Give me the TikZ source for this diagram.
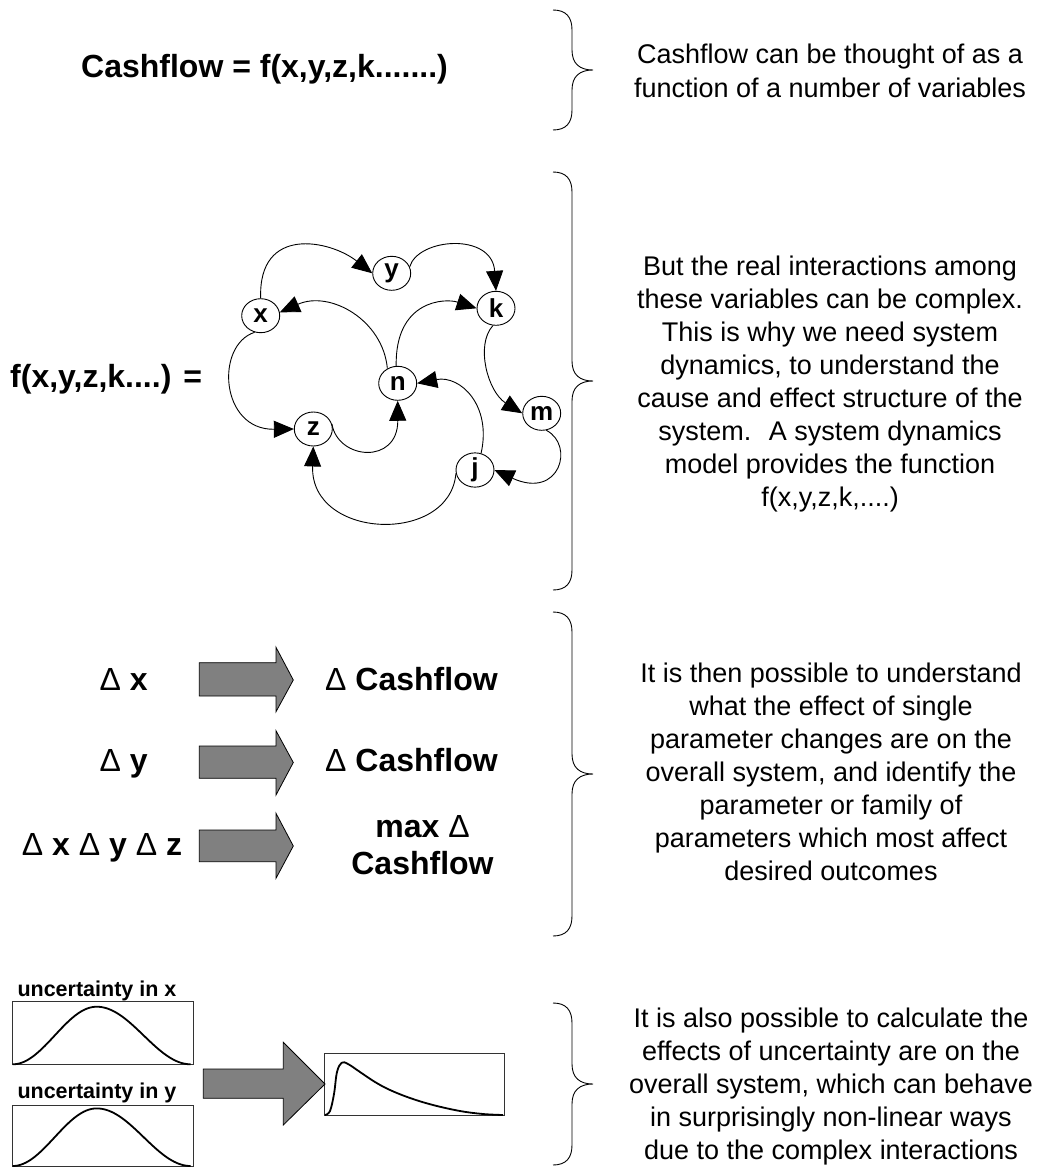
\documentclass[tikz,border=0pt]{standalone}
\usepackage{fontspec}
\setmainfont{Liberation Sans}
\usetikzlibrary{arrows.meta,shapes.geometric}
\tikzset{
  body/.style={font=\fontsize{27}{33}\selectfont, inner sep=0pt, anchor=base},
  big/.style={font=\fontsize{32}{38}\selectfont\bfseries, inner sep=0pt},
  lab/.style={font=\fontsize{21.5}{24}\selectfont\bfseries, inner sep=0pt, anchor=base west},
  var/.style={ellipse, draw, line width=0.9pt, minimum width=38pt, minimum height=34pt, inner sep=0pt, font=\bfseries\fontsize{26}{26}\selectfont},
  link/.style={line width=0.9pt, -{Triangle[length=20pt,width=17pt]}},
  bracestyle/.style={line width=0.9pt},
  block/.style={fill=gray, draw=black, line width=0.8pt},
  panel/.style={draw=black!80, line width=0.9pt},
  curve/.style={line width=1.8pt, line join=round}
}
\newcommand\CurlyR[3]{%
  \draw[bracestyle] (553,#1) .. controls (566,#1) and (572,{#1+7}) .. (572,{#1+20})
    -- (572,{#2-20}) .. controls (572,{#2-6}) and (580,#2) .. (593,#2)
    .. controls (580,#2) and (572,{#2+6}) .. (572,{#2+20})
    -- (572,{#3-20}) .. controls (572,{#3-7}) and (566,#3) .. (553,#3);}
\begin{document}
\begin{tikzpicture}[x=1pt,y=-1pt]
\useasboundingbox (0,0) rectangle (1039,1167);

% ---------- section 1
\node[big, anchor=base] (title) at (264.5,77) {Cashflow = f(x,y,z,k.......)};
\CurlyR{10}{70}{130}
\node[body] (pa0) at (830,63) {Cashflow can be thought of as a};
\node[body] (pa1) at (830,97) {function of a number of variables};

% ---------- section 2
\node[big, anchor=base west] (fdef) at (10,387) {f(x,y,z,k....) =};
\node[var] (x) at (260.7,315.7) {x};
\node[var] (y) at (391.7,273.3) {y};
\node[var] (k) at (496,308.3) {k};
\node[var] (n) at (397.7,383.3) {n};
\node[var] (m) at (541.7,413.3) {m};
\node[var] (z) at (313.3,429) {z};
\node[var] (j) at (475,470) {j};
\draw[link] (x.north) .. controls (258,225) and (330,240) .. (y.west);
\draw[link] (y.20) .. controls (418,238) and (492,232) .. (k.north);
\draw[link] (n.125) .. controls (383,320) and (330,290) .. (x.10);
\draw[link] (x.250) .. controls (215,345) and (220,430) .. (z.west);
\draw[link] (z.15) .. controls (338,460) and (398,465) .. (n.south);
\draw[link] (n.95) .. controls (395,300) and (445,298) .. (k.west);
\draw[link] (k.260) .. controls (475,345) and (488,392) .. (m.west);
\draw[link] (m.-75) .. controls (575,445) and (560,500) .. (j.east);
\draw[link] (j.70) .. controls (492,405) and (460,375) .. (n.east);
\draw[link] (j.190) .. controls (450,545) and (310,540) .. (z.south);
\CurlyR{172}{381}{590}
\node[body] (pb0) at (830,275) {But the real interactions among};
\node[body] (pb1) at (830,308) {these variables can be complex.};
\node[body] (pb2) at (830,341) {This is why we need system};
\node[body] (pb3) at (830,374) {dynamics, to understand the};
\node[body] (pb4) at (830,407) {cause and effect structure of the};
\node[body] (pb5) at (830,440) {system.~ A system dynamics};
\node[body] (pb6) at (830,473) {model provides the function};
\node[body] (pb7) at (830,506) {f(x,y,z,k,....)};

% ---------- section 3
\node[big, anchor=base west] (dx) at (99.3,690) {\textmd{Δ} x};
\node[big, anchor=base west] (dy) at (99.3,771) {\textmd{Δ} y};
\node[big, anchor=base west] (dxyz) at (21.7,855) {\textmd{Δ} x \textmd{Δ} y \textmd{Δ} z};
\draw[block] (199.3,662.7) -- (276,662.7) -- (276,647.3) -- (293.3,680) -- (276,711.7) -- (276,696) -- (199.3,696) -- cycle;
\draw[block] (199.3,746) -- (276,746) -- (276,730.7) -- (293.3,762.5) -- (276,795) -- (276,778.3) -- (199.3,778.3) -- cycle;
\draw[block] (199.3,830) -- (276,830) -- (276,813.3) -- (293.3,846) -- (276,878.3) -- (276,861.7) -- (199.3,861.7) -- cycle;
\node[big, anchor=base west] (c1) at (325,690) {\textmd{Δ} Cashflow};
\node[big, anchor=base west] (c2) at (325,771) {\textmd{Δ} Cashflow};
\node[big, anchor=base] (c3a) at (422.5,837) {max \textmd{Δ}};
\node[big, anchor=base] (c3b) at (422.5,874) {Cashflow};
\CurlyR{612}{774}{936}
\node[body] (pc0) at (831,682) {It is then possible to understand};
\node[body] (pc1) at (831,715) {what the effect of single};
\node[body] (pc2) at (831,748) {parameter changes are on the};
\node[body] (pc3) at (831,781) {overall system, and identify the};
\node[body] (pc4) at (831,814) {parameter or family of};
\node[body] (pc5) at (831,847) {parameters which most affect};
\node[body] (pc6) at (831,880) {desired outcomes};

% ---------- section 4
\node[lab] (ux) at (17.3,996.7) {uncertainty in x};
\node[lab] (uy) at (17.3,1098) {uncertainty in y};
\draw[panel] (12.7,1001) rectangle (193.3,1064.3);
\draw[panel] (12.7,1105) rectangle (193.3,1166.5);
\draw[panel] (324,1053.3) rectangle (504,1115);
\draw[curve] plot[domain=12.7:96.7, samples=40, smooth] (\x,{1064.3-28.8*(1+cos(2.1429*(\x-96.7)))})
  -- plot[domain=96.7:190.7, samples=40, smooth] (\x,{1064.3-28.8*(1+cos(1.9149*(\x-96.7)))});
\draw[curve] plot[domain=12.7:96.7, samples=40, smooth] (\x,{1166-28.8*(1+cos(2.1429*(\x-96.7)))})
  -- plot[domain=96.7:190.7, samples=40, smooth] (\x,{1166-28.8*(1+cos(1.9149*(\x-96.7)))});
\draw[curve] plot[smooth, tension=0.6] coordinates {(325,1115) (330,1111) (334,1094) (337,1072) (341.7,1062.7) (348,1064) (360,1072) (375,1082) (390,1090) (410,1098) (433,1105) (460,1111) (483,1114) (503,1115)};
\draw[block] (203.3,1069) -- (283.3,1069) -- (283.3,1042.3) -- (325,1084) -- (283.3,1125) -- (283.3,1098.3) -- (203.3,1098.3) -- cycle;
\CurlyR{1003}{1084}{1165}
\node[body] (pd0) at (831,1027) {It is also possible to calculate the};
\node[body] (pd1) at (831,1060) {effects of uncertainty are on the};
\node[body] (pd2) at (831,1093) {overall system, which can behave};
\node[body] (pd3) at (831,1126) {in surprisingly non-linear ways};
\node[body] (pd4) at (831,1159) {due to the complex interactions};
\end{tikzpicture}
\end{document}
